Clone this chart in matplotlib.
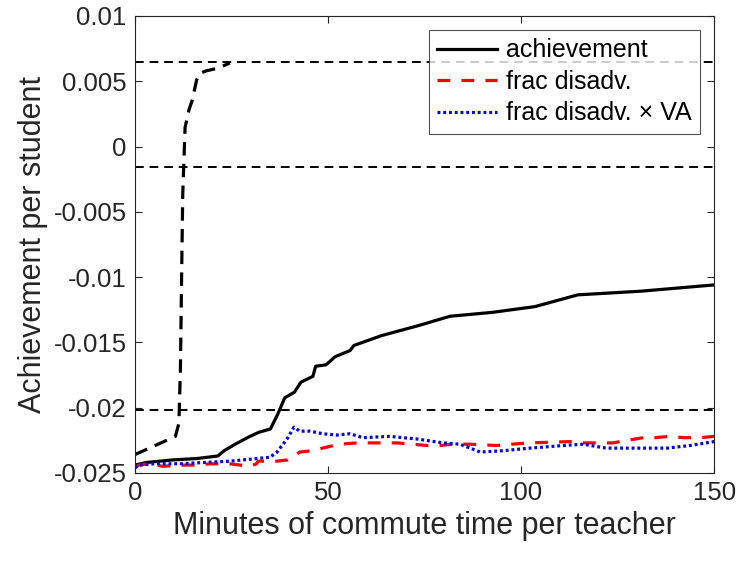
import numpy as np
import matplotlib
matplotlib.use('Agg')
import matplotlib.pyplot as plt

plt.rcParams['font.family'] = ['Liberation Sans', 'DejaVu Sans']

# achievement (solid black)
ach_x = [0, 3, 10, 16, 21.5, 23.1, 26, 29.4, 32, 35.1, 37, 38.8, 41.3, 43.0, 46.1, 46.8,
         49.5, 51.9, 55.7, 56.7, 63.9, 73.5, 81.6, 92.6, 103.6, 114.7, 131, 150]
ach_y = [-0.0244, -0.0242, -0.0240, -0.0239, -0.0237, -0.0233, -0.0228, -0.02226, -0.0219,
         -0.02163, -0.0205, -0.01925, -0.01882, -0.01805, -0.0176, -0.01683, -0.01672,
         -0.01609, -0.01563, -0.01524, -0.01448, -0.01371, -0.0130, -0.0127, -0.01226,
         -0.01136, -0.01108, -0.01060]

# frac disadv. (red dashed)
fd_x = [0, 1, 3.9, 7.3, 10.9, 16, 19.5, 24.6, 29.8, 31.5, 31.9, 36.8, 39.6, 42.7, 45.8, 50,
        53.1, 57.5, 67.8, 72, 75.6, 79, 82.4, 86.8, 93.7, 97.7, 101.8, 112.7, 116, 120,
        123.8, 127.5, 131.7, 134.7, 138.6, 142, 146.4, 150]
fd_y = [-0.0246, -0.0244, -0.0243, -0.0245, -0.0244, -0.0244, -0.0243, -0.0243, -0.0245,
        -0.0243, -0.0241, -0.0241, -0.0240, -0.0234, -0.0233, -0.0230, -0.0228, -0.0227,
        -0.0227, -0.0228, -0.0229, -0.0229, -0.0228, -0.0228, -0.0229, -0.0228, -0.0227,
        -0.0226, -0.0227, -0.0227, -0.0227, -0.0225, -0.0223, -0.0223, -0.0222, -0.0223,
        -0.0223, -0.0222]

# frac disadv. x VA (blue dotted)
va_x = [0, 1, 5, 11.6, 24.6, 35, 36.8, 39.4, 41.2, 42.7, 45.3, 48.7, 52.3, 55.7, 59, 66,
        73, 79.8, 84.2, 89.4, 95.3, 102.3, 111, 116, 122, 127.5, 137.8, 143.8, 150]
va_y = [-0.0246, -0.0244, -0.0243, -0.0243, -0.0241, -0.0238, -0.0234, -0.0224, -0.0215,
        -0.0218, -0.0218, -0.0220, -0.0221, -0.0220, -0.0223, -0.0222, -0.0224, -0.0227,
        -0.0228, -0.0234, -0.0233, -0.0231, -0.0229, -0.0228, -0.0231, -0.0231, -0.0231,
        -0.0229, -0.0226]

# cumulative curve (thick black dashed, no legend)
cum_x = [0, 10.5, 11.4, 11.8, 12.1, 12.4, 13.0, 14.0, 14.8, 16.0, 16.8, 18.5, 21.5, 24.6]
cum_y = [-0.0236, -0.0222, -0.0212, -0.0170, -0.0100, -0.0036, 0.00146, 0.0028, 0.0035,
         0.0051, 0.0056, 0.0058, 0.0060, 0.0064]

# horizontal reference lines
ref_y = [0.0065, -0.00153, -0.0202]

fig = plt.figure(figsize=(7.37, 5.61), dpi=100)
ax = fig.add_axes([0.183, 0.157, 0.786, 0.8145])

gray = '#262626'
for yv in ref_y:
    ax.axhline(yv, color='k', lw=1.4, ls=(0, (4.5, 3)))

ax.plot(cum_x, cum_y, color='k', lw=2.3, ls=(0, (4.2, 2.6)))
ax.plot(ach_x, ach_y, color='k', lw=2.3, label='achievement')
ax.plot(fd_x, fd_y, color='red', lw=2.3, ls=(0, (4, 3.5)), label='frac disadv.')
ax.plot(va_x, va_y, color='blue', lw=2.3, ls=(0, (0.9, 0.9)), label='frac disadv. × VA')

ax.set_xlim(0, 150)
ax.set_ylim(-0.025, 0.01)
ax.set_xticks([0, 50, 100, 150])
ax.set_yticks([-0.025, -0.02, -0.015, -0.01, -0.005, 0, 0.005, 0.01])
ax.set_yticklabels(['-0.025', '-0.02', '-0.015', '-0.01', '-0.005', '0', '0.005', '0.01'])
ax.tick_params(direction='in', top=True, right=True, labelsize=18.5, colors=gray,
               length=5, width=0.8, pad=6)
for s in ax.spines.values():
    s.set_color(gray)
    s.set_linewidth(0.8)

ax.set_xlabel('Minutes of commute time per teacher', fontsize=22, color=gray)
ax.set_ylabel('Achievement per student', fontsize=22, color=gray)

leg = ax.legend(loc='upper right', fontsize=18, frameon=True, fancybox=False,
                edgecolor=gray, handlelength=2.4, borderpad=0.35, labelspacing=0.3,
                handletextpad=0.35, borderaxespad=0.55)
leg.get_frame().set_linewidth(0.8)

fig.savefig('out.png', dpi=100)
